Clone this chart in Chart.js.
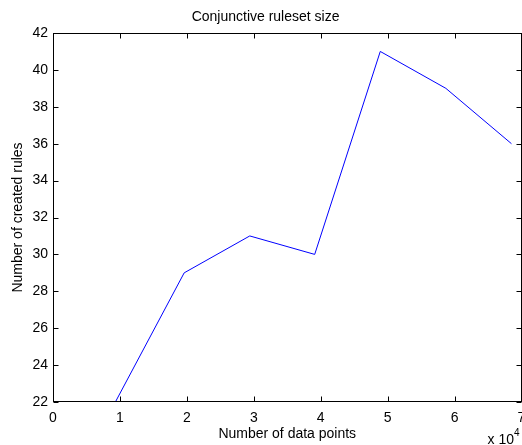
<!DOCTYPE html>
<html>
<head>
<meta charset="utf-8">
<script src="https://cdn.jsdelivr.net/npm/chart.js@4.4.0/dist/chart.umd.min.js"></script>
<style>
  html, body { margin: 0; padding: 0; background: #fff; }
  #wrap { width: 522px; height: 445px; }
</style>
</head>
<body>
<div id="wrap"><canvas id="c"></canvas></div>
<script>
// data (x in units of 10^4)
const xValues = [0.8, 1.96, 2.94, 3.91, 4.89, 5.87, 6.85];
const ruleCounts = [21.1, 29, 31, 30, 41, 39, 36];
const xTicks = [0, 1, 2, 3, 4, 5, 6, 7];
const yTicks = [22, 24, 26, 28, 30, 32, 34, 36, 38, 40, 42];

const FONT = 'Liberation Sans, Arial, Helvetica, sans-serif';

// MATLAB-like box with inward ticks on all four sides
const boxPlugin = {
  id: 'box',
  afterDraw(chart) {
    const { ctx, chartArea: a, scales } = chart;
    const L = Math.round(a.left) + 0.5, R = Math.round(a.right) - 0.5;
    const T = Math.round(a.top) + 0.5, B = Math.round(a.bottom) - 0.5;
    const len = 5;
    ctx.save();
    ctx.strokeStyle = '#000';
    ctx.lineWidth = 1;
    ctx.beginPath();
    xTicks.forEach(v => {
      const px = Math.round(scales.x.getPixelForValue(v)) + 0.5;
      ctx.moveTo(px, B); ctx.lineTo(px, B - len);
      ctx.moveTo(px, T); ctx.lineTo(px, T + len);
    });
    yTicks.forEach(v => {
      const py = Math.round(scales.y.getPixelForValue(v)) + 0.5;
      ctx.moveTo(L, py); ctx.lineTo(L + len, py);
      ctx.moveTo(R, py); ctx.lineTo(R - len, py);
    });
    ctx.stroke();
    ctx.strokeRect(L, T, R - L, B - T);

    // exponent label
    ctx.fillStyle = '#000';
    ctx.textBaseline = 'alphabetic';
    ctx.font = '14px ' + FONT;
    ctx.textAlign = 'right';
    ctx.fillText('x 10', 514, 444);
    ctx.font = '10px ' + FONT;
    ctx.textAlign = 'left';
    ctx.fillText('4', 514, 436);
    ctx.restore();
  }
};

new Chart(document.getElementById('c'), {
  type: 'line',
  data: {
    datasets: [{
      data: xValues.map((x, i) => ({ x, y: ruleCounts[i] })),
      borderColor: '#0000ff',
      borderWidth: 1,
      pointRadius: 0,
      tension: 0,
      fill: false
    }]
  },
  options: {
    responsive: true,
    maintainAspectRatio: false,
    animation: false,
    layout: { padding: { left: 9.6, right: 0.5, top: 0, bottom: 2.6 } },
    plugins: {
      legend: { display: false },
      tooltip: { enabled: false },
      title: {
        display: true,
        text: 'Conjunctive ruleset size',
        color: '#000',
        font: { family: FONT, size: 14, weight: 'normal', lineHeight: 1.2 },
        padding: { top: 8.6, bottom: 7.6 }
      }
    },
    scales: {
      x: {
        type: 'linear',
        min: 0, max: 7,
        afterBuildTicks: s => { s.ticks = xTicks.map(v => ({ value: v })); },
        afterFit: s => { s.height = 40.4; s.paddingLeft = 0; s.paddingRight = 0; },
        grid: { display: false, drawTicks: false },
        border: { display: false },
        ticks: { color: '#000', padding: 8, maxRotation: 0, autoSkip: false,
                 font: { family: FONT, size: 14 } },
        title: { display: true, text: 'Number of data points', color: '#000',
                 padding: 0, font: { family: FONT, size: 14 } }
      },
      y: {
        min: 22, max: 42,
        afterBuildTicks: s => { s.ticks = yTicks.map(v => ({ value: v })); },
        afterFit: s => { s.width = 43.4; },
        grid: { display: false, drawTicks: false },
        border: { display: false },
        ticks: { color: '#000', padding: 5, autoSkip: false,
                 font: { family: FONT, size: 14 } },
        title: { display: true, text: 'Number of created rules', color: '#000',
                 padding: 0, font: { family: FONT, size: 14 } }
      }
    }
  },
  plugins: [boxPlugin]
});
</script>
</body>
</html>
